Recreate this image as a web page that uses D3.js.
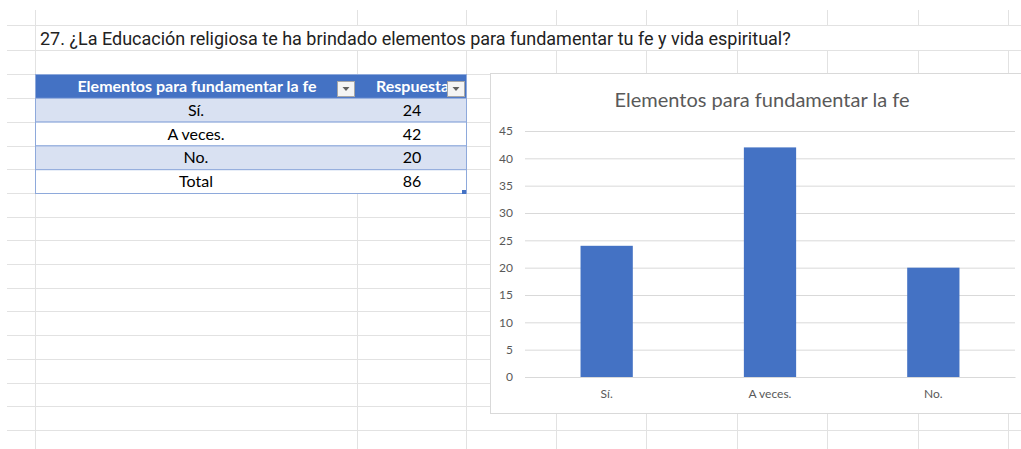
<!DOCTYPE html>
<html>
<head>
<meta charset="utf-8">
<script src="https://cdn.jsdelivr.net/npm/d3@7"></script>
<style>
  body { margin: 0; background: #fff; }
  svg { display: block; }
</style>
</head>
<body>
<div id="sheet"></div>
<script>
// data
var question = "27. ¿La Educación religiosa te ha brindado elementos para fundamentar tu fe y vida espiritual?";
var chartTitle = "Elementos para fundamentar la fe";
var headers = ["Elementos para fundamentar la fe", "Respuesta"];
var categories = ["Sí.", "A veces.", "No."];
var values = [24, 42, 20];
var totalLabel = "Total";
var yTicks = [0, 5, 10, 15, 20, 25, 30, 35, 40, 45];

var W = 1021, H = 449;
var svg = d3.select("#sheet").append("svg")
    .attr("width", W)
    .attr("height", H);

// spreadsheet grid
var colLines = [35, 357, 466, 556, 646, 737, 827, 918, 1008];
var rowLines = [25, 50, 74, 98, 122, 145.5, 169, 193, 216.5, 240, 264, 287.5, 311, 335, 359, 382.5, 406, 430];
var grid = svg.append("g").attr("stroke", "#e2e2e2").attr("stroke-width", 1);
grid.selectAll(".h").data(rowLines).enter().append("line")
    .attr("x1", 7).attr("x2", W)
    .attr("y1", function(d) { return Math.round(d) + 0.5; })
    .attr("y2", function(d) { return Math.round(d) + 0.5; });
grid.selectAll(".v").data(colLines).enter().append("line")
    .attr("x1", function(d) { return d + 0.5; })
    .attr("x2", function(d) { return d + 0.5; })
    .attr("y1", 10).attr("y2", H);

// question title (white strip behind it)
svg.append("rect").attr("x", 36).attr("y", 26).attr("width", 985).attr("height", 24).attr("fill", "#fff");
svg.append("text")
    .attr("x", 40).attr("y", 45)
    .style("font-family", "Roboto, sans-serif")
    .style("font-size", "18px")
    .attr("fill", "#222")
    .text(question);

// table
var tx = 35, tMid = 357, tRight = 466, rowH = 23.8, tTop = 74;
var tableRows = categories.map(function(c, i) { return {label: c, value: values[i]}; });
tableRows.push({label: totalLabel, value: d3.sum(values)});

var table = svg.append("g").style("font-family", "Lato, 'Open Sans', sans-serif").style("font-size", "16px");

table.append("rect")
    .attr("x", tx + 0.5).attr("y", tTop + 0.5)
    .attr("width", tRight - tx).attr("height", rowH)
    .attr("fill", "#4472c4");

var rowsG = table.selectAll(".row").data(tableRows).enter().append("g")
    .attr("transform", function(d, i) { return "translate(0," + (tTop + rowH * (i + 1)) + ")"; });
rowsG.append("rect")
    .attr("x", tx + 0.5).attr("y", 0.5)
    .attr("width", tRight - tx).attr("height", rowH)
    .attr("fill", function(d, i) { return i % 2 === 0 ? "#d9e1f2" : "#fff"; })
    .attr("stroke", "#8ea9db").attr("stroke-width", 1);
rowsG.append("text")
    .attr("x", (tx + tMid) / 2).attr("y", 18)
    .attr("text-anchor", "middle")
    .attr("fill", "#000")
    .text(function(d) { return d.label; });
rowsG.append("text")
    .attr("x", 412).attr("y", 18)
    .attr("text-anchor", "middle")
    .attr("fill", "#000")
    .text(function(d) { return d.value; });

// header
table.append("text")
    .attr("x", 197).attr("y", tTop + 18)
    .attr("text-anchor", "middle")
    .attr("fill", "#fff")
    .style("font-weight", "bold")
    .text(headers[0]);
table.append("text")
    .attr("x", 376).attr("y", tTop + 18)
    .attr("fill", "#fff")
    .style("font-weight", "bold")
    .text(headers[1]);

// filter buttons
[337, 447].forEach(function(bx) {
  var b = table.append("g").attr("transform", "translate(" + bx + "," + (tTop + 7) + ")");
  b.append("rect").attr("x", 0.5).attr("y", 0.5).attr("width", 17).attr("height", 15)
      .attr("fill", "#f4f4f4").attr("stroke", "#a6a6a6");
  b.append("path").attr("d", "M5.5,6 L12.5,6 L9,10 Z").attr("fill", "#606060");
});
table.append("rect")
    .attr("x", tx + 0.5).attr("y", tTop + 0.5)
    .attr("width", tRight - tx).attr("height", rowH * 5)
    .attr("fill", "none").attr("stroke", "#8ea9db");
table.append("rect").attr("x", 462).attr("y", tTop + rowH * 5 - 3).attr("width", 4).attr("height", 4).attr("fill", "#4472c4");

// chart
var cx0 = 490, cy0 = 73, cw = 540, ch = 340;
svg.append("rect")
    .attr("x", cx0 + 0.5).attr("y", cy0 + 0.5)
    .attr("width", cw).attr("height", ch)
    .attr("fill", "#fff").attr("stroke", "#d9d9d9");

svg.append("text")
    .attr("x", 762).attr("y", 107)
    .attr("text-anchor", "middle")
    .style("font-family", "Lato, 'Open Sans', sans-serif")
    .style("font-size", "20px")
    .attr("fill", "#595959")
    .text(chartTitle);

var x = d3.scaleBand()
    .domain(categories)
    .range([525, 1015])
    .paddingInner(0.68)
    .paddingOuter(0.34);

var y = d3.scaleLinear()
    .domain([0, 45])
    .range([377, 131]);

var chartFont = "Lato, 'Open Sans', sans-serif";

var yAxis = svg.append("g")
    .attr("transform", "translate(525,0)")
    .call(d3.axisLeft(y).tickValues(yTicks).tickSize(-490).tickPadding(12));
yAxis.select(".domain").remove();
yAxis.selectAll(".tick line").attr("stroke", "#d9d9d9");
yAxis.selectAll(".tick text")
    .attr("fill", "#595959")
    .style("font-family", chartFont)
    .style("font-size", "12px");

svg.append("g").selectAll("rect").data(values).enter().append("rect")
    .attr("x", function(d, i) { return x(categories[i]); })
    .attr("y", function(d) { return y(d); })
    .attr("width", x.bandwidth())
    .attr("height", function(d) { return y(0) - y(d); })
    .attr("fill", "#4472c4");

var xAxis = svg.append("g")
    .attr("transform", "translate(0,377)")
    .call(d3.axisBottom(x).tickSize(0).tickPadding(12));
xAxis.select(".domain").attr("stroke", "#d9d9d9");
xAxis.selectAll(".tick text")
    .attr("fill", "#595959")
    .style("font-family", chartFont)
    .style("font-size", "12px");
</script>
</body>
</html>
